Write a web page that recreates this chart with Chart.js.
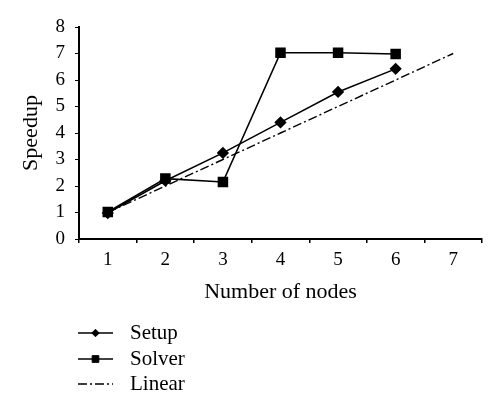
<!DOCTYPE html>
<html>
<head>
<meta charset="utf-8">
<script src="https://cdn.jsdelivr.net/npm/chart.js@4/dist/chart.umd.min.js"></script>
<style>
html,body{margin:0;padding:0;background:#fff;}
#wrap{width:500px;height:413px;position:relative;}
</style>
</head>
<body>
<div id="wrap"><canvas id="c" width="500" height="413"></canvas></div>
<script>
const categories = ['1','2','3','4','5','6','7'];
const setupValues = [0.98, 2.2, 3.25, 4.4, 5.55, 6.42, null];
const solverValues = [1.02, 2.28, 2.15, 7.03, 7.03, 6.98, null];
const linearValues = [1, 2, 3, 4, 5, 6, 7];
const yTicks = [0,1,2,3,4,5,6,7,8];
const seriesLabels = ['Setup','Solver','Linear'];

const SERIF = '"Liberation Serif", "DejaVu Serif", serif';

const legendPlugin = {
  id: 'lineLegend',
  afterDraw(chart) {
    const ctx = chart.ctx;
    const ca = chart.chartArea;
    const x0 = ca.left - 1, x1 = ca.left + 34, tx = ca.left + 51;
    const rows = [ca.bottom + 94, ca.bottom + 120, ca.bottom + 145];
    chart.data.datasets.forEach((ds, i) => {
      const y = rows[i];
      ctx.save();
      ctx.strokeStyle = ds.borderColor;
      ctx.lineWidth = ds.borderWidth;
      ctx.setLineDash(ds.borderDash || []);
      ctx.beginPath();
      ctx.moveTo(x0, y);
      ctx.lineTo(x1, y);
      ctx.stroke();
      ctx.setLineDash([]);
      if (ds.pointRadius > 0) {
        ctx.fillStyle = ds.pointBackgroundColor;
        ctx.strokeStyle = ds.pointBorderColor;
        ctx.lineWidth = 1;
        Chart.helpers.drawPoint(ctx, {pointStyle: ds.pointStyle, radius: ds.pointRadius * 0.75, borderWidth: 1, rotation: 0}, (x0 + x1) / 2, y);
      }
      ctx.fillStyle = '#000';
      ctx.font = '21px ' + SERIF;
      ctx.textBaseline = 'middle';
      ctx.textAlign = 'left';
      ctx.fillText(ds.label, tx, y);
      ctx.restore();
    });
  }
};

new Chart(document.getElementById('c'), {
  type: 'line',
  data: {
    labels: categories,
    datasets: [
      {label: seriesLabels[0], data: setupValues, borderColor: '#000', borderWidth: 1.6,
       pointStyle: 'rectRot', pointRadius: 5, pointBackgroundColor: '#000', pointBorderColor: '#000', tension: 0},
      {label: seriesLabels[1], data: solverValues, borderColor: '#000', borderWidth: 1.6,
       pointStyle: 'rect', pointRadius: 6.3, pointBackgroundColor: '#000', pointBorderColor: '#000', tension: 0},
      {label: seriesLabels[2], data: linearValues, borderColor: '#000', borderWidth: 1.4, borderDash: [9,3,2,3],
       pointRadius: 0, pointBackgroundColor: '#000', pointBorderColor: '#000', tension: 0}
    ]
  },
  options: {
    responsive: false,
    animation: false,
    devicePixelRatio: 1,
    layout: {padding: {top: 27, right: 18, left: 14, bottom: 104}},
    plugins: {legend: {display: false}, tooltip: {enabled: false}},
    scales: {
      x: {
        offset: true,
        grid: {display: true, offset: true, drawOnChartArea: false, drawTicks: true, tickLength: 4, color: '#000', lineWidth: 1.5},
        border: {display: true, color: '#000', width: 2},
        ticks: {color: '#000', font: {family: SERIF, size: 19}, padding: 6, maxRotation: 0},
        title: {display: true, text: 'Number of nodes', color: '#000', font: {family: SERIF, size: 22}, padding: {top: 2}},
        afterFit(scale) { scale.height = 70; }
      },
      y: {
        min: 0, max: 8,
        afterBuildTicks(scale) { scale.ticks = yTicks.map(v => ({value: v})); },
        grid: {display: true, drawOnChartArea: false, drawTicks: true, tickLength: 4, color: '#000', lineWidth: 1},
        border: {display: true, color: '#000', width: 2},
        ticks: {color: '#000', font: {family: SERIF, size: 19}, padding: 10},
        title: {display: true, text: 'Speedup', color: '#000', font: {family: SERIF, size: 22}, padding: {bottom: 0}},
        afterFit(scale) { scale.width = 65; }
      }
    }
  },
  plugins: [legendPlugin]
});
</script>
</body>
</html>
